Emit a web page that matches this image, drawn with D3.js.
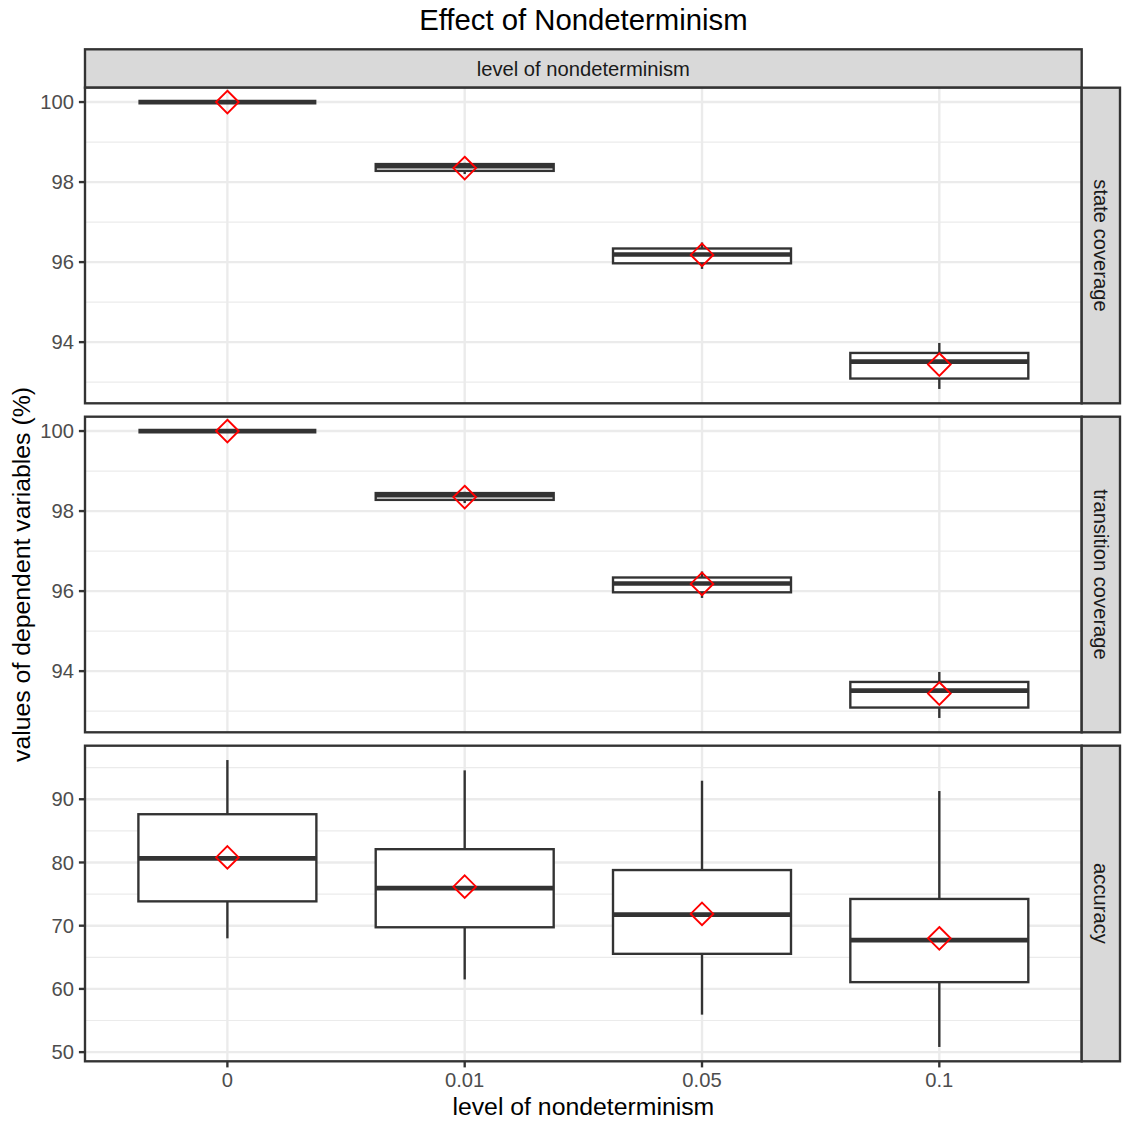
<!DOCTYPE html>
<html>
<head>
<meta charset="utf-8">
<script src="https://cdn.jsdelivr.net/npm/d3@7"></script>
<style>
  body { margin: 0; background: #fff; }
  svg { display: block; }
  text { font-family: "Liberation Sans", Arial, Helvetica, sans-serif; }
</style>
</head>
<body>
<script>
// Levels of nondeterminism (x categories) and the three measured variables (row facets)
const levels = ["0", "0.01", "0.05", "0.1"];
const facets = ["state coverage", "transition coverage", "accuracy"];

// Box statistics per level: [lower whisker, Q1, median, Q3, upper whisker]
const stateCoverage = [
  [100, 100, 100, 100, 100],
  [98.2, 98.28, 98.4, 98.45, 98.48],
  [95.83, 95.97, 96.19, 96.34, 96.49],
  [92.83, 93.09, 93.51, 93.73, 93.98]
];
const stateMeans = [100, 98.35, 96.18, 93.44];

const transitionCoverage = [
  [100, 100, 100, 100, 100],
  [98.2, 98.28, 98.4, 98.45, 98.48],
  [95.83, 95.97, 96.19, 96.34, 96.49],
  [92.83, 93.09, 93.51, 93.73, 93.98]
];
const transitionMeans = [100, 98.35, 96.18, 93.44];

const accuracy = [
  [68.0, 73.85, 80.63, 87.63, 96.2],
  [61.5, 69.75, 75.96, 82.1, 94.57],
  [55.93, 65.55, 71.75, 78.8, 92.93],
  [50.82, 61.07, 67.7, 74.23, 91.3]
];
const accuracyMeans = [80.8, 76.17, 71.86, 68.0];

// Axis ticks per facet
const majorTicks = [[94, 96, 98, 100], [94, 96, 98, 100], [50, 60, 70, 80, 90]];
const minorTicks = [[93, 95, 97, 99], [93, 95, 97, 99], [55, 65, 75, 85, 95]];

const panels = [
  { name: facets[0], stats: stateCoverage, means: stateMeans },
  { name: facets[1], stats: transitionCoverage, means: transitionMeans },
  { name: facets[2], stats: accuracy, means: accuracyMeans }
];

// Layout
const W = 1122, H = 1122;
const left = 85, right = 1081.7;
const stripTop = 49.3, panelTop = 87.7, panelH = 315.6, panelGap = 13.4;
const stripW = 38.3;
const lw = 2.37;           // base line width
const tickLen = 6.1;
const dark = "#333333";
const grid = "#ebebeb";
const smallFont = 20.2, titleFont = 24.8;

const svg = d3.select("body").append("svg")
  .attr("width", W).attr("height", H);

svg.append("rect").attr("width", W).attr("height", H).attr("fill", "#fff");

const x = d3.scalePoint().domain(levels).range([left, right]).padding(0.6);
const boxW = x.step() * 0.75;

// Title
svg.append("text")
  .attr("x", (left + right) / 2).attr("y", 30)
  .attr("text-anchor", "middle")
  .attr("font-size", 29.3).attr("fill", "#000")
  .text("Effect of Nondeterminism");

// Top strip
svg.append("rect")
  .attr("x", left).attr("y", stripTop)
  .attr("width", right - left).attr("height", panelTop - stripTop)
  .attr("fill", "#d9d9d9").attr("stroke", dark).attr("stroke-width", lw);
svg.append("text")
  .attr("x", (left + right) / 2).attr("y", (stripTop + panelTop) / 2)
  .attr("dy", "0.35em")
  .attr("text-anchor", "middle")
  .attr("font-size", smallFont).attr("fill", "#1a1a1a")
  .text("level of nondeterminism");

panels.forEach((p, i) => {
  const top = panelTop + i * (panelH + panelGap);
  const bottom = top + panelH;
  const lo = d3.min(p.stats, d => d[0]);
  const hi = d3.max(p.stats, d => d[4]);
  const pad = (hi - lo) * 0.05;
  const y = d3.scaleLinear().domain([lo - pad, hi + pad]).range([bottom, top]);

  const g = svg.append("g");

  // Panel background and grid
  g.append("rect").attr("x", left).attr("y", top)
    .attr("width", right - left).attr("height", panelH).attr("fill", "#fff");

  g.selectAll(".minor").data(minorTicks[i]).join("line")
    .attr("x1", left).attr("x2", right)
    .attr("y1", d => y(d)).attr("y2", d => y(d))
    .attr("stroke", grid).attr("stroke-width", lw / 2);
  g.selectAll(".major").data(majorTicks[i]).join("line")
    .attr("x1", left).attr("x2", right)
    .attr("y1", d => y(d)).attr("y2", d => y(d))
    .attr("stroke", grid).attr("stroke-width", lw);
  g.selectAll(".vgrid").data(levels).join("line")
    .attr("x1", d => x(d)).attr("x2", d => x(d))
    .attr("y1", top).attr("y2", bottom)
    .attr("stroke", grid).attr("stroke-width", lw);

  // Boxplots
  const boxes = g.selectAll(".box").data(p.stats).join("g");
  boxes.append("line")
    .attr("x1", (d, j) => x(levels[j])).attr("x2", (d, j) => x(levels[j]))
    .attr("y1", d => y(d[4])).attr("y2", d => y(d[3]))
    .attr("stroke", dark).attr("stroke-width", lw);
  boxes.append("line")
    .attr("x1", (d, j) => x(levels[j])).attr("x2", (d, j) => x(levels[j]))
    .attr("y1", d => y(d[1])).attr("y2", d => y(d[0]))
    .attr("stroke", dark).attr("stroke-width", lw);
  boxes.append("rect")
    .attr("x", (d, j) => x(levels[j]) - boxW / 2)
    .attr("y", d => y(d[3]))
    .attr("width", boxW)
    .attr("height", d => y(d[1]) - y(d[3]))
    .attr("fill", "#fff").attr("stroke", dark).attr("stroke-width", lw);
  boxes.append("line")
    .attr("x1", (d, j) => x(levels[j]) - boxW / 2)
    .attr("x2", (d, j) => x(levels[j]) + boxW / 2)
    .attr("y1", d => y(d[2])).attr("y2", d => y(d[2]))
    .attr("stroke", dark).attr("stroke-width", lw * 2)
    .attr("stroke-linecap", "butt");

  // Mean markers (open red diamonds)
  const r = 11.3;
  g.selectAll(".mean").data(p.means).join("path")
    .attr("d", (d, j) => {
      const cx = x(levels[j]), cy = y(d);
      return `M${cx},${cy - r}L${cx + r},${cy}L${cx},${cy + r}L${cx - r},${cy}Z`;
    })
    .attr("fill", "none").attr("stroke", "#ff0000").attr("stroke-width", 1.9);

  // Panel border
  g.append("rect").attr("x", left).attr("y", top)
    .attr("width", right - left).attr("height", panelH)
    .attr("fill", "none").attr("stroke", dark).attr("stroke-width", lw);

  // Y axis ticks and labels
  g.selectAll(".ytick").data(majorTicks[i]).join("line")
    .attr("x1", left - tickLen).attr("x2", left)
    .attr("y1", d => y(d)).attr("y2", d => y(d))
    .attr("stroke", dark).attr("stroke-width", lw);
  g.selectAll(".ylab").data(majorTicks[i]).join("text")
    .attr("x", left - tickLen - 4.9).attr("y", d => y(d))
    .attr("dy", "0.35em").attr("text-anchor", "end")
    .attr("font-size", smallFont).attr("fill", "#4d4d4d")
    .text(d => d);

  // Right strip
  g.append("rect")
    .attr("x", right).attr("y", top)
    .attr("width", stripW).attr("height", panelH)
    .attr("fill", "#d9d9d9").attr("stroke", dark).attr("stroke-width", lw);
  g.append("text")
    .attr("transform", `translate(${right + stripW / 2},${(top + bottom) / 2}) rotate(90)`)
    .attr("dy", "0.35em").attr("text-anchor", "middle")
    .attr("font-size", smallFont).attr("fill", "#1a1a1a")
    .text(p.name);

  // X axis on the bottom panel only
  if (i === panels.length - 1) {
    g.selectAll(".xtick").data(levels).join("line")
      .attr("x1", d => x(d)).attr("x2", d => x(d))
      .attr("y1", bottom).attr("y2", bottom + tickLen)
      .attr("stroke", dark).attr("stroke-width", lw);
    g.selectAll(".xlab").data(levels).join("text")
      .attr("x", d => x(d)).attr("y", bottom + tickLen + 4.9)
      .attr("dy", "0.75em").attr("text-anchor", "middle")
      .attr("font-size", smallFont).attr("fill", "#4d4d4d")
      .text(d => d);
  }
});

// Axis titles
svg.append("text")
  .attr("x", (left + right) / 2).attr("y", 1115)
  .attr("text-anchor", "middle")
  .attr("font-size", titleFont).attr("fill", "#000")
  .text("level of nondeterminism");

const midY = (panelTop + panelTop + 3 * panelH + 2 * panelGap) / 2;
svg.append("text")
  .attr("transform", `translate(30,${midY}) rotate(-90)`)
  .attr("text-anchor", "middle")
  .attr("font-size", titleFont).attr("fill", "#000")
  .text("values of dependent variables (%)");
</script>
</body>
</html>
